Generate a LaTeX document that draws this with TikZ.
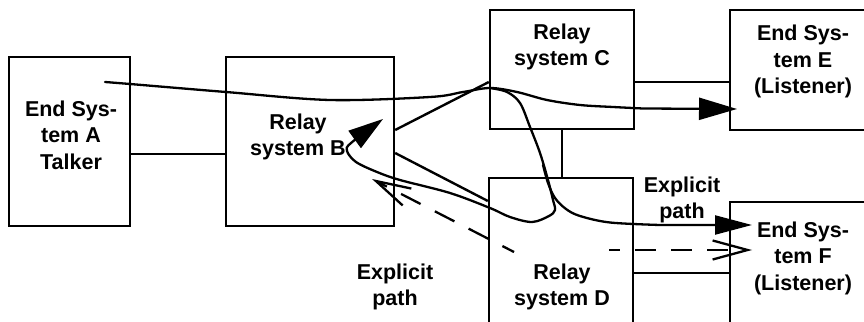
\documentclass[tikz,border=0pt]{standalone}
\usepackage{fontspec}
\setmainfont{Liberation Sans}
\usetikzlibrary{arrows.meta}
\newcommand\stacklines[1]{\begin{tabular}[t]{@{}c@{}}#1\end{tabular}}
\tikzset{
  box/.style={draw, line width=2.3pt, inner sep=0pt},
  lbl/.style={font=\fontsize{21.5}{26.5}\selectfont\bfseries, anchor=base, inner sep=0pt},
  link/.style={line width=2.9pt},
  diag/.style={line width=2.4pt},
  flow/.style={line width=2.3pt, line cap=round, line join=round},
  dashflow/.style={line width=2.3pt, dash pattern=on 22pt off 16pt},
  opentip/.style={-{Straight Barb[length=35pt,width=19pt]}}
}
\begin{document}
\begin{tikzpicture}[x=1pt,y=-1pt]
\useasboundingbox (0,0) rectangle (864,321);
\clip (0,0) rectangle (864,321);

% systems
\node[box, minimum width=121pt, minimum height=169pt] (A) at (69.5,141.5) {};
\node[box, minimum width=168pt, minimum height=169pt] (B) at (310,141.5) {};
\node[box, minimum width=144pt, minimum height=119pt] (C) at (562,69.5) {};
\node[box, minimum width=144pt, minimum height=160pt] (D) at (561,258) {};
\node[box, minimum width=145pt, minimum height=120pt] (E) at (802.5,70) {};
\node[box, minimum width=145pt, minimum height=160pt] (F) at (802.5,282) {};

% labels
\node[lbl] (Atext) at (71,116) {\stacklines{End Sys-\\tem A\\Talker}};
\node[lbl] (Btext) at (298,129) {\stacklines{Relay\\system B}};
\node[lbl] (Ctext) at (562,39.5) {\stacklines{Relay\\system C}};
\node[lbl] (Dtext) at (562,279) {\stacklines{Relay\\system D}};
\node[lbl] (Etext) at (803,41) {\stacklines{End Sys-\\tem E\\(Listener)}};
\node[lbl] (Ftext) at (803,237) {\stacklines{End Sys-\\tem F\\(Listener)}};
\node[lbl] (pathUp) at (682,192) {\stacklines{Explicit\\path}};
\node[lbl] (pathLow) at (395,279) {\stacklines{Explicit\\path}};

% physical links
\draw[link] ([yshift=-12.5pt]A.east) -- ([yshift=-12.5pt]B.west);
\draw[link] ([yshift=-12.5pt]C.east) -- ([yshift=-12.5pt]C.east -| E.west);
\draw[link] (C.south) -- (C.south |- D.north);
\draw[link] ([yshift=-15pt]D.east) -- ([yshift=-15pt]D.east -| F.west);
\draw[diag] ([yshift=11.5pt]B.east) -- ([yshift=-12.5pt]C.west);
\draw[diag] ([yshift=-11.5pt]B.east) -- ([yshift=57pt]D.west);

% stream paths
\coordinate (srcA) at (105,82);
\coordinate (tipE) at (737,109);
\coordinate (tipB) at (383,119);
\coordinate (tipF) at (752,225);
\coordinate (dashD) at (514,252);
\coordinate (dashB) at (372,179);
\coordinate (dashF0) at (609,250);
\coordinate (dashF) at (752,250);

\draw[flow,-{Triangle[length=38pt,width=22pt]}]
  plot[smooth,tension=0.55] coordinates {(srcA) (130,84) (226,92) (330,100)
    (430,97) (463,92) (490,88) (517,92) (547,100) (580,105) (613,107) (643,108.5)}
  -- (tipE);

\draw[flow,-{Triangle[length=35pt,width=21pt]}]
  plot[smooth,tension=0.55] coordinates {(490,88) (507,92) (520,103) (530,127)
    (540,153) (548,180) (553,200) (555,210) (549,216) (532,222) (510,217)
    (490,208) (450,193) (400,180) (377,172) (356,162) (347,151) (351,143) (tipB)};

\draw[flow,-{Triangle[length=37pt,width=19pt]}]
  plot[smooth,tension=0.55] coordinates {(543,165) (548,183) (555,198) (566,209)
    (580,216) (610,222.5) (660,225)}
  -- (tipF);

\draw[dashflow, dash phase=9pt, opentip] (dashD) -- (dashB);
\draw[dashflow, dash pattern=on 21pt off 15pt, dash phase=10pt, opentip] (dashF0) -- (dashF);
\end{tikzpicture}
\end{document}
